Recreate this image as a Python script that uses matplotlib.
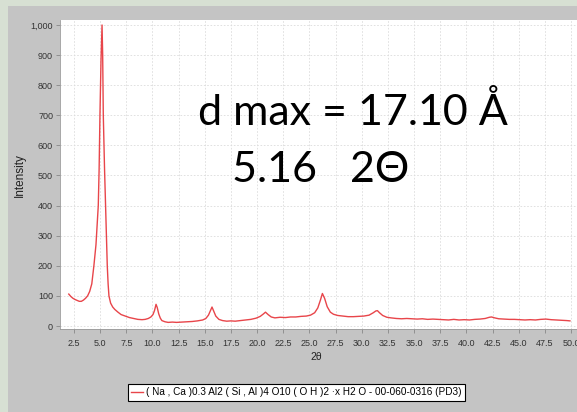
import matplotlib
matplotlib.use("Agg")
import matplotlib.pyplot as plt
from matplotlib.patches import Rectangle
from matplotlib.ticker import FuncFormatter

# ---- data ----
two_theta = [2.0, 2.2, 2.4, 2.6, 2.8, 3.0, 3.2, 3.4, 3.6, 3.8, 4.0, 4.2, 4.4, 4.6,
             4.82, 4.9, 4.98, 5.08, 5.18, 5.24, 5.3, 5.42, 5.5, 5.6, 5.68, 5.76,
             5.84, 6.0, 6.2, 6.4, 6.7, 7.0, 7.4, 7.8, 8.2, 8.6, 9.0, 9.3, 9.6, 9.85,
             10.05, 10.2, 10.34, 10.45, 10.6, 10.75, 10.9, 11.2, 11.5, 11.9, 12.3,
             12.8, 13.3, 13.8, 14.3, 14.8, 15.1, 15.35, 15.55, 15.69, 15.85, 16.05,
             16.35, 16.7, 17.1, 17.5, 17.9, 18.4, 18.9, 19.4, 19.9, 20.3, 20.6, 20.8,
             21.05, 21.35, 21.7, 22.2, 22.7, 23.2, 23.7, 24.2, 24.7, 25.1, 25.5, 25.8,
             26.05, 26.24, 26.45, 26.7, 27.0, 27.3, 27.7, 28.2, 28.7, 29.2, 29.7,
             30.2, 30.7, 31.1, 31.35, 31.5, 31.7, 32.0, 32.4, 32.8, 33.3, 33.8, 34.3,
             34.8, 35.3, 35.8, 36.3, 36.8, 37.3, 37.8, 38.3, 38.8, 39.3, 39.8, 40.3,
             40.8, 41.3, 41.8, 42.2, 42.4, 42.7, 43.1, 43.6, 44.1, 44.6, 45.1, 45.6,
             46.1, 46.6, 47.1, 47.6, 48.1, 48.6, 49.1, 49.6, 49.9]
intensity = [106, 98, 92, 88, 85, 82, 82, 86, 92, 100, 115, 140, 200, 270,
             400, 520, 700, 880, 1000, 900, 700, 520, 420, 300, 200, 140,
             100, 76, 63, 55, 46, 38, 33, 28, 25, 22, 21, 22, 25, 30,
             38, 52, 72, 62, 40, 26, 18, 14, 12, 13, 12,
             13, 14, 15, 17, 20, 25, 36, 52, 63, 50, 33,
             22, 18, 16, 17, 16, 18, 20, 22, 26, 32, 40, 46,
             38, 30, 27, 29, 28, 30, 30, 32, 33, 36, 44, 60,
             86, 108, 92, 64, 46, 39, 35, 33, 31, 31, 32,
             33, 36, 44, 50, 51, 44, 35, 29, 27, 25, 24, 25,
             24, 23, 24, 22, 23, 22, 21, 20, 22, 20, 21, 20,
             22, 23, 25, 29, 30, 27, 24, 23, 22, 22, 21, 20,
             21, 20, 22, 23, 21, 20, 19, 18, 17]
x_ticks = [2.5, 5.0, 7.5, 10.0, 12.5, 15.0, 17.5, 20.0, 22.5, 25.0, 27.5, 30.0,
           32.5, 35.0, 37.5, 40.0, 42.5, 45.0, 47.5, 50.0]
y_ticks = [0, 100, 200, 300, 400, 500, 600, 700, 800, 900, 1000]
series_label = "( Na , Ca )0.3 Al2 ( Si , Al )4 O10 ( O H )2 \u00b7x H2 O - 00-060-0316 (PD3)"
note_line1 = "d max = 17.10 \u00c5"
note_line2 = "5.16   2\u0398"

W, H = 577, 412
fig = plt.figure(figsize=(W / 100, H / 100), dpi=100)
fig.patch.set_facecolor("#c4c4c4")
# light slide border strips
fig.patches.append(Rectangle((0, 1 - 6 / H), 1, 6 / H, transform=fig.transFigure,
                             facecolor="#d7e0d3", edgecolor="none", zorder=0))
fig.patches.append(Rectangle((0, 0), 8 / W, 1, transform=fig.transFigure,
                             facecolor="#d7e0d3", edgecolor="none", zorder=0))

# axes geometry (pixels): left 60, bottom 329, top 20, extends past right edge
x25_px, x50_px = 74, 571
px_per_x = (x50_px - x25_px) / 47.5
px_per_y = (326 - 25) / 1000
left_px, right_px, top_px, bot_px = 60, 600, 20, 329
ax = fig.add_axes([left_px / W, (H - bot_px) / H, (right_px - left_px) / W,
                   (bot_px - top_px) / H])
ax.set_facecolor("white")
ax.set_xlim(2.5 - (x25_px - left_px) / px_per_x, 50.0 + (right_px - x50_px) / px_per_x)
ax.set_ylim(-(bot_px - 326) / px_per_y, 1000 + (25 - top_px) / px_per_y)

ax.plot(two_theta, intensity, color="#e8454a", lw=1.0, label=series_label)

ax.set_xticks(x_ticks)
ax.set_yticks(y_ticks)
ax.xaxis.set_major_formatter(FuncFormatter(lambda v, p: f"{v:.1f}"))
ax.yaxis.set_major_formatter(FuncFormatter(lambda v, p: f"{int(v):,}"))
ax.tick_params(axis="both", labelsize=6.5, colors="#333333", length=3, width=0.6,
               color="#888888", pad=2)
ax.tick_params(axis="x", pad=4)
for lab in ax.get_xticklabels() + ax.get_yticklabels():
    lab.set_fontfamily("Liberation Sans")
ax.grid(True, color="#dcdcdc", lw=0.6, ls=(0, (2, 2)))
for s in ["top", "right"]:
    ax.spines[s].set_visible(False)
for s in ["left", "bottom"]:
    ax.spines[s].set_color("#999999")
    ax.spines[s].set_linewidth(0.6)

fig.text(316 / W, 1 - 357 / H, "2\u03b8", fontsize=7.5, family="Liberation Sans",
         ha="center", va="center", color="#222222")
fig.text(20 / W, 1 - 175 / H, "Intensity", fontsize=8.5, family="Liberation Sans",
         rotation=90, ha="center", va="center", color="#222222")

fig.text(198 / W, 1 - 125 / H, note_line1, fontsize=31, family="Lato",
         ha="left", va="baseline", color="black")
fig.text(232 / W, 1 - 182 / H, note_line2, fontsize=31, family="Lato",
         ha="left", va="baseline", color="black")

leg = fig.legend(loc="center", bbox_to_anchor=(296.5 / W, 1 - 392 / H),
                 frameon=True, fancybox=False, handlelength=1.2,
                 handletextpad=0.3, borderpad=0.35, borderaxespad=0,
                 prop={"family": "Liberation Sans", "size": 7.2})
leg.get_frame().set_edgecolor("black")
leg.get_frame().set_linewidth(0.8)
leg.get_frame().set_facecolor("white")
leg.get_frame().set_alpha(1)

fig.savefig("out.png", dpi=100, facecolor=fig.get_facecolor())
